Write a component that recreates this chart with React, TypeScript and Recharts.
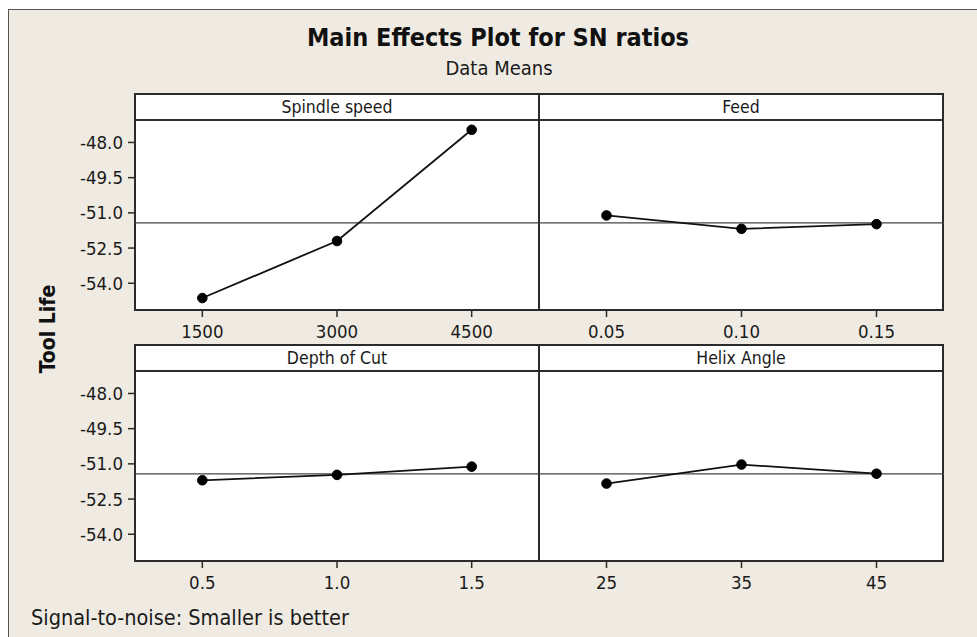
import React from 'react';
import { LineChart, Line, XAxis, YAxis, ReferenceLine } from 'recharts';

// factor levels and mean SN ratios
const spindleLevels = [1500, 3000, 4500];
const spindleSN = [-54.63, -52.2, -47.46];

const feedLevels = [0.05, 0.1, 0.15];
const feedSN = [-51.11, -51.68, -51.48];

const depthLevels = [0.5, 1.0, 1.5];
const depthSN = [-51.7, -51.47, -51.12];

const helixLevels = [25, 35, 45];
const helixSN = [-51.84, -51.03, -51.42];

const yTicks = [-48.0, -49.5, -51.0, -52.5, -54.0];
const yDomain = [-55.14, -47.0];
const overallMean = -51.43;

const FONT = "'DejaVu Sans Condensed', 'DejaVu Sans', sans-serif";
const INK = '#2b2b2b';
const BEIGE = '#efebe2';

type PanelProps = {
  title: string;
  levels: number[];
  values: number[];
  xDomain: number[];
  digits: number;
  left: number;
  top: number;
  showY: boolean;
};

const Panel: React.FC<PanelProps> = ({ title, levels, values, xDomain, digits, left, top, showY }) => {
  const data = levels.map((lv, i) => ({ level: lv, sn: values[i] }));
  const yW = showY ? 85 : 0;
  const plotW = showY ? 404 : 405;
  const plotH = 191;
  return (
    <>
      {/* panel box with header strip */}
      <div
        style={{
          position: 'absolute',
          left: left - 1,
          top: top,
          width: 406,
          height: 218,
          boxSizing: 'border-box',
          border: `2px solid ${INK}`,
          background: '#fff',
        }}
      >
        <div
          style={{
            height: 24,
            borderBottom: `2px solid ${INK}`,
            textAlign: 'center',
            fontFamily: FONT,
            fontSize: 17.5,
            lineHeight: '24px',
            color: '#1a1a1a',
          }}
        >
          {title}
        </div>
      </div>
      <div style={{ position: 'absolute', left: left - yW, top: top + 26 }}>
        <LineChart
          width={yW + plotW}
          height={plotH + 40}
          data={data}
          margin={{ top: 0, right: 0, bottom: 0, left: 0 }}
        >
          <XAxis
            dataKey="level"
            type="number"
            domain={xDomain}
            allowDataOverflow
            ticks={levels}
            tickFormatter={(v: number) => v.toFixed(digits)}
            axisLine={false}
            tickSize={7}
            tickMargin={8}
            height={40}
            tickLine={{ stroke: INK, strokeWidth: 1.5 }}
            tick={{ fill: '#1a1a1a', fontSize: 18.5, fontFamily: FONT }}
          />
          <YAxis
            type="number"
            domain={yDomain}
            allowDataOverflow
            ticks={yTicks}
            hide={!showY}
            width={yW}
            tickFormatter={(v: number) => v.toFixed(1)}
            axisLine={false}
            tickSize={7}
            tickMargin={5}
            tickLine={{ stroke: INK, strokeWidth: 1.5 }}
            tick={{ fill: '#1a1a1a', fontSize: 18.5, fontFamily: FONT }}
          />
          <ReferenceLine y={overallMean} stroke="#444" strokeWidth={1.2} />
          <Line
            type="linear"
            dataKey="sn"
            stroke="#111"
            strokeWidth={1.8}
            dot={{ r: 4.8, fill: '#000', stroke: '#000', strokeWidth: 1 }}
            activeDot={false}
            isAnimationActive={false}
          />
        </LineChart>
      </div>
    </>
  );
};

export default function App() {
  return (
    <div style={{ position: 'absolute', left: 0, top: 0, width: 977, height: 637, background: '#fff', overflow: 'hidden' }}>
      <div
        style={{
          position: 'absolute',
          left: 8,
          top: 9,
          width: 969,
          height: 628,
          boxSizing: 'border-box',
          borderTop: '1.5px solid #555',
          borderLeft: '1.5px solid #555',
          background: BEIGE,
        }}
      />
      <div
        style={{
          position: 'absolute',
          left: 0,
          width: 996,
          top: 22,
          textAlign: 'center',
          fontFamily: FONT,
          fontWeight: 'bold',
          fontSize: 25,
          lineHeight: '32px',
          color: '#111',
        }}
      >
        Main Effects Plot for SN ratios
      </div>
      <div
        style={{
          position: 'absolute',
          left: 0,
          width: 998,
          top: 56,
          textAlign: 'center',
          fontFamily: FONT,
          fontSize: 20,
          lineHeight: '24px',
          color: '#1a1a1a',
        }}
      >
        Data Means
      </div>
      <div
        style={{
          position: 'absolute',
          left: 48,
          top: 329,
          transform: 'translate(-50%, -50%) rotate(-90deg)',
          fontFamily: FONT,
          fontWeight: 'bold',
          fontSize: 21,
          whiteSpace: 'nowrap',
          color: '#111',
        }}
      >
        Tool Life
      </div>

      <Panel title="Spindle speed" levels={spindleLevels} values={spindleSN} xDomain={[750, 5250]} digits={0} left={135} top={93} showY />
      <Panel title="Feed" levels={feedLevels} values={feedSN} xDomain={[0.025, 0.175]} digits={2} left={539} top={93} showY={false} />
      <Panel title="Depth of Cut" levels={depthLevels} values={depthSN} xDomain={[0.25, 1.75]} digits={1} left={135} top={344} showY />
      <Panel title="Helix Angle" levels={helixLevels} values={helixSN} xDomain={[20, 50]} digits={0} left={539} top={344} showY={false} />

      <div
        style={{
          position: 'absolute',
          left: 31,
          top: 604,
          fontFamily: FONT,
          fontSize: 21.5,
          lineHeight: '28px',
          color: '#1a1a1a',
          whiteSpace: 'nowrap',
        }}
      >
        Signal-to-noise: Smaller is better
      </div>
    </div>
  );
}
